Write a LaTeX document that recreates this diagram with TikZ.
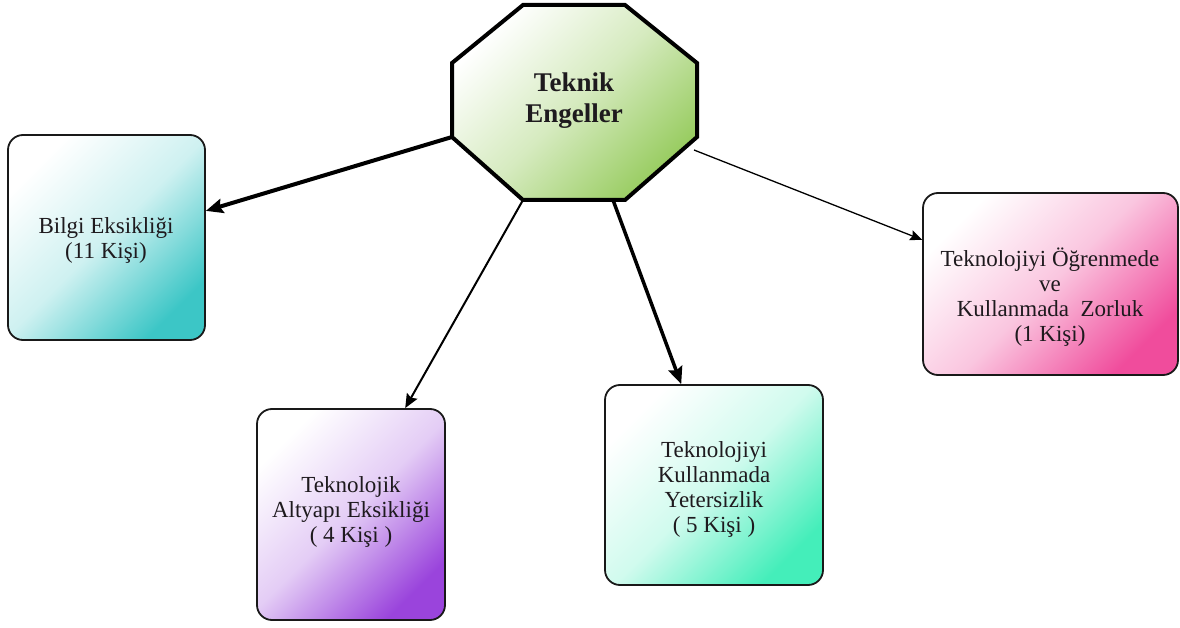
\documentclass[tikz,border=0pt]{standalone}
\usepackage{fontspec}
\setmainfont{Liberation Serif}
\usetikzlibrary{arrows.meta,calc}
\definecolor{octg}{HTML}{98CC60}
\definecolor{tealc}{HTML}{3CC6C6}
\definecolor{purpc}{HTML}{9A44DC}
\definecolor{mintc}{HTML}{44EEBA}
\definecolor{pinkc}{HTML}{F04C9C}
\definecolor{txt}{HTML}{1E1A1E}
\begin{document}
\begin{tikzpicture}[x=1pt,y=-1pt,
  box/.style={draw=black!90,line width=1.8pt,rounded corners=15pt,inner sep=0pt},
  boxtext/.style={align=center,text=txt,font=\fontsize{23}{25}\selectfont,inner sep=0pt},
  octo/.style={draw=black,line width=4pt,top color=white,bottom color=octg,middle color=octg!40!white,shading angle=45},
  conn/.style={draw=black,-{Stealth[length=#1,width=0.85*#1,inset=0.15*#1]}},
]
\useasboundingbox (0,0) rectangle (1180,628);
% central octagon
\coordinate (o1) at (523,5);
\coordinate (o2) at (625,5);
\coordinate (o3) at (697,63);
\coordinate (o4) at (697,137);
\coordinate (o5) at (625,200);
\coordinate (o6) at (523,200);
\coordinate (o7) at (452,137);
\coordinate (o8) at (452,63);
\path[octo] (o1)--(o2)--(o3)--(o4)--(o5)--(o6)--(o7)--(o8)--cycle;
\node[align=center,text=txt,font=\bfseries\fontsize{27}{31}\selectfont] (oct) at (574,101) {Teknik\\Engeller};
\coordinate (s3) at (613,200);
\coordinate (s4) at (694,150);
% boxes
\node[box,minimum width=197pt,minimum height=205pt,top color=white,bottom color=tealc,middle color=tealc!25!white,shading angle=45] (b1) at (106.5,237.5) {};
\node[box,minimum width=188pt,minimum height=211pt,top color=white,bottom color=purpc,middle color=purpc!27!white,shading angle=45] (b2) at (351,514.5) {};
\node[box,minimum width=218pt,minimum height=200pt,top color=white,bottom color=mintc,middle color=mintc!25!white,shading angle=45] (b3) at (714,485) {};
\node[box,minimum width=255pt,minimum height=182pt,top color=white,bottom color=pinkc,middle color=pinkc!32!white,shading angle=45] (b4) at (1050.5,284) {};
% texts
\node[boxtext] (t1) at (106,240) {Bilgi Eksikliği\\(11 Kişi)};
\node[boxtext] (t2) at (351,512) {Teknolojik\\Altyapı Eksikliği\\( 4 Kişi )};
\node[boxtext] (t3) at (714,489) {Teknolojiyi\\Kullanmada\\Yetersizlik\\( 5 Kişi )};
\node[boxtext] (t4) at (1050,297) {Teknolojiyi Öğrenmede\\ve\\Kullanmada~~Zorluk\\(1 Kişi)};
% connectors
\draw[conn=17pt,line width=4pt] (o7) -- (b1.15.6);
\draw[conn=14pt,line width=2pt] (o6) -- (b2.63.1);
\draw[conn=17pt,line width=3.5pt] (s3) -- (b3.108.8);
\draw[conn=12pt,line width=1.3pt] (s4) -- (b4.161.2);
\end{tikzpicture}
\end{document}
